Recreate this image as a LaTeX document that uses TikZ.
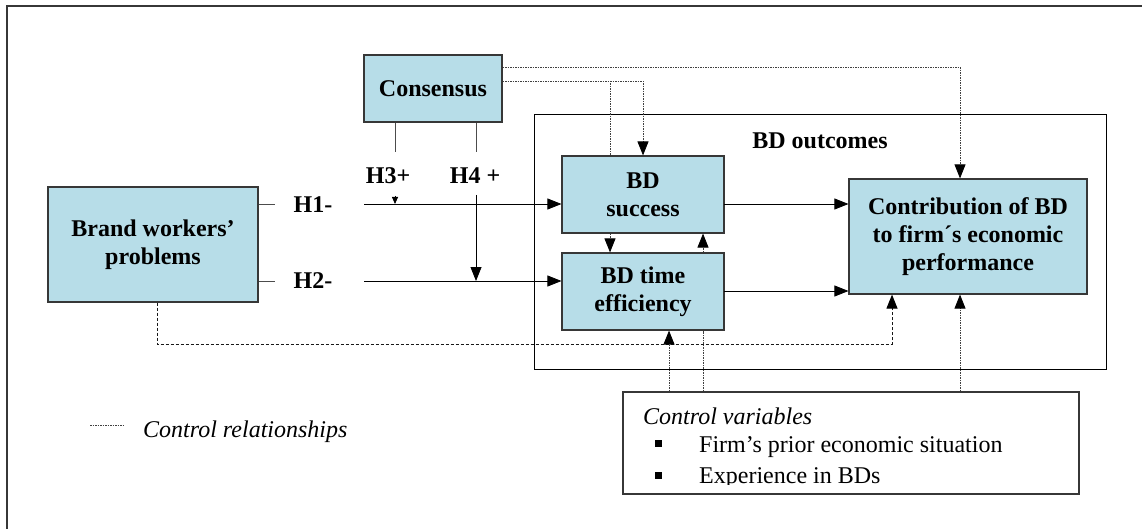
\documentclass[tikz,border=0pt]{standalone}
\usepackage{fontspec}
\setmainfont{Liberation Serif}
\usetikzlibrary{arrows.meta}
\definecolor{boxblue}{RGB}{183,221,232}
\definecolor{edgec}{RGB}{55,55,55}
\begin{document}
\begin{tikzpicture}[x=1pt,y=-1pt,
  box/.style={draw=edgec,line width=1.2pt,fill=boxblue,inner sep=0pt,align=center,font=\fontsize{24}{28}\selectfont\bfseries},
  plain/.style={draw=black,line width=0.8pt},
  stub/.style={draw=black!70,line width=0.8pt},
  ar/.style={-{Triangle[width=11pt,length=14pt,color=black]}},
  ctrl/.style={draw=black!75,line width=0.8pt,dash pattern=on 1.5pt off 1pt},
  brd/.style={draw=black!90,line width=1pt,dash pattern=on 3pt off 2pt},
  lbl/.style={inner sep=0pt,font=\fontsize{24}{28}\selectfont\bfseries},
  itl/.style={inner sep=0pt,anchor=base west,font=\fontsize{24}{28}\selectfont\itshape},
  txt/.style={inner sep=0pt,anchor=base west,font=\fontsize{24}{28}\selectfont},
  bullet/.style={fill=black,minimum size=7pt,inner sep=0pt},
]
\useasboundingbox (0,0) rectangle (1142,529);
\fill[white] (0,0) rectangle (1142,529);
\draw[edgec,line width=1.5pt] (7,529) -- (7,6) -- (1142,6);

% frames
\node[draw=black,line width=1pt,minimum width=572pt,minimum height=254pt,inner sep=0pt] (outc) at (820,242) {};
\node[lbl] (outl) at (820,140.5) {BD outcomes};

% boxes
\node[box,minimum width=138pt,minimum height=67pt] (cons) at (433,88.5) {Consensus};
\node[box,minimum width=210pt,minimum height=115pt] (brand) at (153,244.5) {Brand workers’\\problems};
\node[box,minimum width=162pt,minimum height=77pt] (succ) at (643,194.5) {BD\\success};
\node[box,minimum width=162pt,minimum height=77pt] (time) at (643,291.5) {BD time\\efficiency};
\node[box,minimum width=238pt,minimum height=115pt] (contr) at (968,236.5) {Contribution of BD\\to firm´s economic\\performance};
\node[draw=edgec,line width=1.2pt,minimum width=456pt,minimum height=102pt,inner sep=0pt] (ctrlv) at (851,443) {};

% hypothesis labels
\node[lbl] (h1) at (313,204.5) {H1-};
\node[lbl] (h2) at (313,280.5) {H2-};
\node[lbl] (h3) at (388,175.5) {H3+};
\node[lbl] (h4) at (475,175.5) {H4 +};

% coordinates
\coordinate (h1a) at (275,204);
\coordinate (h1b) at (364,204);
\coordinate (h2a) at (275,281);
\coordinate (h2b) at (364,281);
\coordinate (c3) at (395,152);
\coordinate (c4) at (476,152);
\coordinate (h3t) at (395,196);
\coordinate (h4t) at (476,195);
\coordinate (k1) at (960,67);
\coordinate (k2) at (643,81);
\coordinate (k3) at (610,81);
\coordinate (d1) at (157,344);
\coordinate (d2) at (892,344);
\coordinate (v1) at (669,392);
\coordinate (v2) at (703,392);
\coordinate (v3) at (960,392);
\coordinate (s1) at (724,204);
\coordinate (t1) at (724,291);

% H paths
\draw[stub] (brand.east |- h1a) -- (h1a);
\draw[plain,ar] (h1b) -- (succ.west |- h1b);
\draw[stub] (brand.east |- h2a) -- (h2a);
\draw[plain,ar] (h2b) -- (time.west |- h2b);
\draw[stub] (c3 |- cons.south) -- (c3);
\draw[stub] (c4 |- cons.south) -- (c4);
\draw[plain,-{Triangle[width=6pt,length=7pt]}] (h3t) -- (h3t |- h1b);
\draw[plain,ar] (h4t) -- (h4t |- h2b);

% outcome arrows
\draw[plain,ar] (s1) -- (contr.west |- s1);
\draw[plain,ar] (t1) -- (contr.west |- t1);

% control relationships from consensus
\draw[ctrl,ar] (cons.east |- k1) -- (k1) -- (contr.north -| k1);
\draw[ctrl,ar] (cons.east |- k2) -- (k2) -- (succ.north);
\draw[ctrl] (k3) -- (succ.north -| k3);
\draw[ctrl,ar] (succ.south -| k3) -- (time.north -| k3);

% brand control
\draw[brd,ar] (brand.south -| d1) -- (d1) -- (d2) -- (contr.south -| d2);

% control variables
\draw[ctrl,ar] (ctrlv.north -| v1) -- (time.south -| v1);
\draw[ctrl] (ctrlv.north -| v2) -- (time.south -| v2);
\draw[ctrl,ar] (time.north -| v2) -- (succ.south -| v2);
\draw[ctrl,ar] (ctrlv.north -| v3) -- (contr.south -| v3);

\node[itl] (cvt) at (643,424) {Control variables};
\node[bullet] (b1) at (658,443) {};
\node[txt] (cv1) at (699,452) {Firm’s prior economic situation};
\begin{scope}
\clip (623,392) rectangle (1079,484);
\node[bullet] (b2) at (658,475) {};
\node[txt] (cv2) at (699,483) {Experience in BDs};
\end{scope}

% legend
\coordinate (lg1) at (90,425);
\coordinate (lg2) at (123,425);
\draw[ctrl] (lg1) -- (lg2);
\node[itl] (lgt) at (143,437) {Control relationships};
\end{tikzpicture}
\end{document}
